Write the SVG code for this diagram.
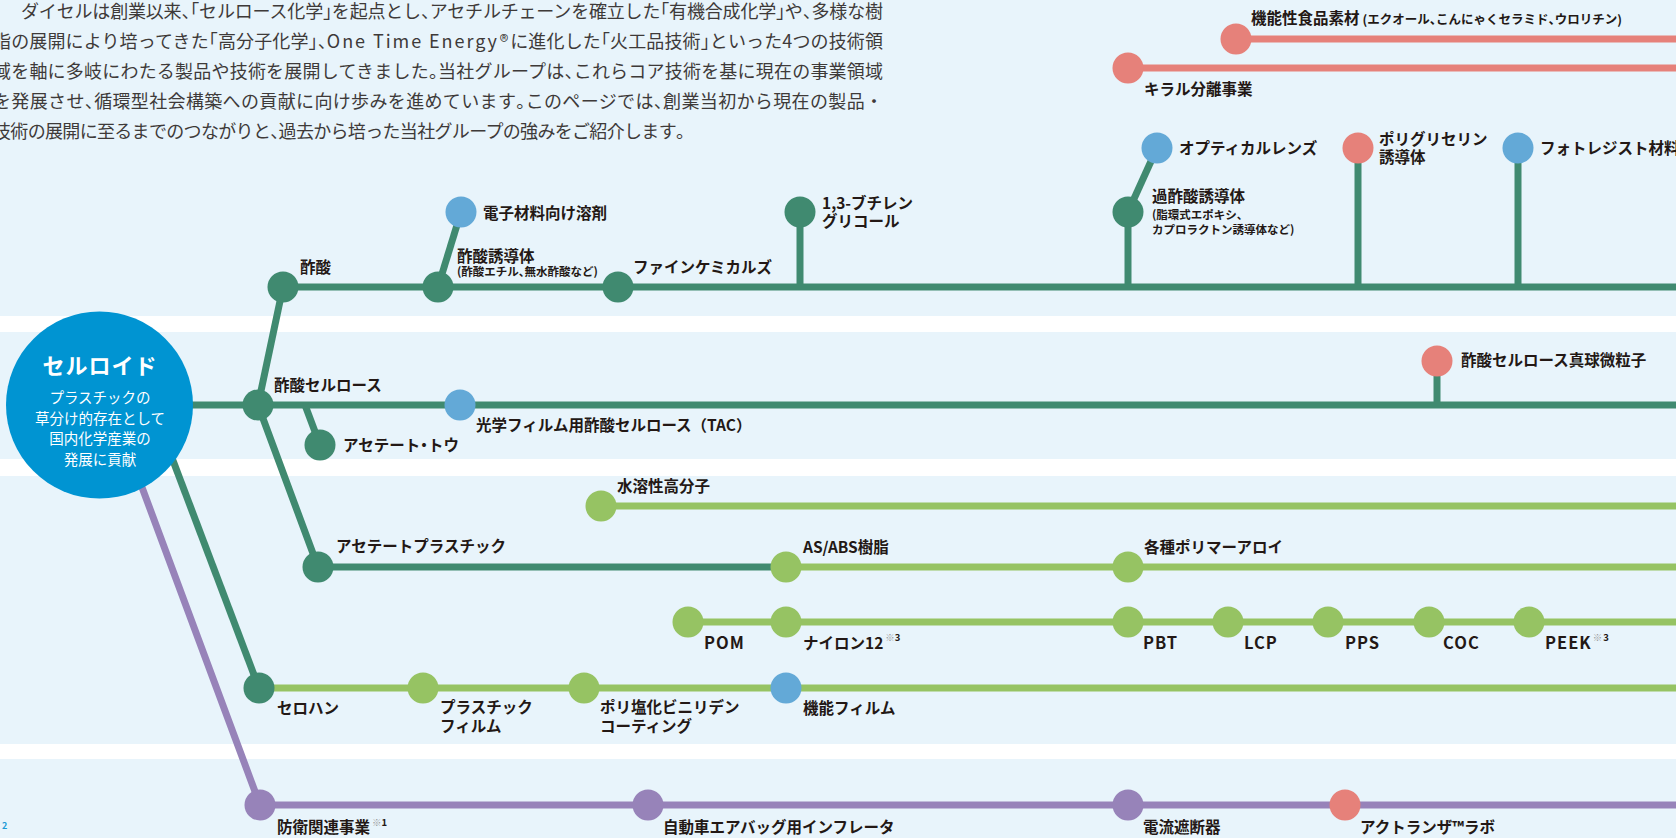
<svg xmlns="http://www.w3.org/2000/svg" width="1676" height="838" viewBox="0 0 1676 838">
<style>
.bg{fill:#E8F4FB}
.c{fill:none;stroke-width:7;stroke-linecap:butt}
.cg{stroke:#408A70}.cl{stroke:#96C363}.cp{stroke:#E6817A}.cv{stroke:#9783B9}
.ng{fill:#408A70}.nl{fill:#96C363}.nb{fill:#63A9D7}.np{fill:#E6817A}.nv{fill:#9783B9}
text{font-family:"Noto Sans CJK JP","Noto Sans",sans-serif}
.t{font-weight:700;font-size:15.5px;fill:#231815}
.s{font-weight:700;font-size:11.5px;fill:#231815}
.e{font-weight:700;font-size:16.5px;fill:#231815;letter-spacing:1px}
.sup{font-weight:700;font-size:9.5px;fill:#231815}
.k{fill:#9a9a9a}
.p{font-weight:400;font-size:18px;fill:#3E3A39}
.h{font-feature-settings:"halt"}
.w{fill:#fff}
</style>
<rect x="0" y="0" width="1676" height="838" fill="#fff"/>
<g id="bands">
<rect class="bg" x="0" y="0" width="1676" height="316"/>
<rect class="bg" x="0" y="332" width="1676" height="127"/>
<rect class="bg" x="0" y="476" width="1676" height="268"/>
<rect class="bg" x="0" y="759" width="1676" height="79"/>
</g>
<g id="intro">
<text class="p" x="21" y="18" textLength="862" lengthAdjust="spacing">ダイセルは創業以来<tspan class="h">、「</tspan>セルロース化学<tspan class="h">」</tspan>を起点とし<tspan class="h">、</tspan>アセチルチェーンを確立した<tspan class="h">「</tspan>有機合成化学<tspan class="h">」</tspan>や<tspan class="h">、</tspan>多様な樹</text>
<text class="p" x="-7" y="48" textLength="890" lengthAdjust="spacing">脂の展開により培ってきた<tspan class="h">「</tspan>高分子化学<tspan class="h">」、</tspan><tspan letter-spacing="1.8">One Time Energy®</tspan>に進化した<tspan class="h">「</tspan>火工品技術<tspan class="h">」</tspan>といった4つの技術領</text>
<text class="p" x="-7" y="78" textLength="890" lengthAdjust="spacing">域を軸に多岐にわたる製品や技術を展開してきました<tspan class="h">。</tspan>当社グループは<tspan class="h">、</tspan>これらコア技術を基に現在の事業領域</text>
<text class="p" x="-7" y="108" textLength="890" lengthAdjust="spacing">を発展させ<tspan class="h">、</tspan>循環型社会構築への貢献に向け歩みを進めています<tspan class="h">。</tspan>このページでは<tspan class="h">、</tspan>創業当初から現在の製品・</text>
<text class="p" x="-7" y="138" textLength="692" lengthAdjust="spacing">技術の展開に至るまでのつながりと<tspan class="h">、</tspan>過去から培った当社グループの強みをご紹介します<tspan class="h">。</tspan></text>
</g>
<g id="connectors">
<path class="c cg" d="M283 287H1676"/>
<path class="c cg" d="M283 287L258 405"/>
<path class="c cg" d="M150 405H1676"/>
<path class="c cg" d="M258 405L318 567H786"/>
<path class="c cg" d="M305 405L320 445"/>
<path class="c cg" d="M438 287L461 212"/>
<path class="c cg" d="M800 212V287"/>
<path class="c cg" d="M1128 212V287"/>
<path class="c cg" d="M1128 212L1157 148"/>
<path class="c cg" d="M1358 148V287"/>
<path class="c cg" d="M1518 148V287"/>
<path class="c cg" d="M1437 361V405"/>
<path class="c cg" d="M152 405L259 688"/>
<path class="c cv" d="M117 420L260 805H1676"/>
<path class="c cl" d="M601 506H1676"/>
<path class="c cl" d="M786 567H1676"/>
<path class="c cl" d="M688 622H1676"/>
<path class="c cl" d="M259 688H1676"/>
<path class="c cp" d="M1236 39H1676"/>
<path class="c cp" d="M1128 68H1676"/>
</g>
<g id="celluloid">
<circle cx="99.5" cy="405" r="93.5" fill="#0094D2"/>
<text class="w" x="100" y="374" text-anchor="middle" font-weight="700" font-size="22" letter-spacing="1">セルロイド</text>
<text class="w" x="100" y="403" text-anchor="middle" font-size="14.5">プラスチックの</text>
<text class="w" x="100" y="423.5" text-anchor="middle" font-size="14.5">草分け的存在として</text>
<text class="w" x="100" y="444" text-anchor="middle" font-size="14.5">国内化学産業の</text>
<text class="w" x="100" y="464.5" text-anchor="middle" font-size="14.5">発展に貢献</text>
</g>
<g id="n-sakusan"><circle class="ng" cx="283" cy="287" r="15.5"/><text class="t" x="300" y="273">酢酸</text></g>
<g id="n-sakusan-yudotai"><circle class="ng" cx="438" cy="287" r="15.5"/><text class="t" x="457" y="261.5">酢酸誘導体</text><text class="s" x="457" y="276">(酢酸エチル<tspan class="h">、</tspan>無水酢酸など)</text></g>
<g id="n-denshi"><circle class="nb" cx="461" cy="212" r="15.5"/><text class="t" x="483" y="219">電子材料向け溶剤</text></g>
<g id="n-fine"><circle class="ng" cx="618" cy="287" r="15.5"/><text class="t" x="633" y="273">ファインケミカルズ</text></g>
<g id="n-butylene"><circle class="ng" cx="800" cy="212" r="15.5"/><text class="t" x="822" y="209">1,3-ブチレン</text><text class="t" x="822" y="226.5">グリコール</text></g>
<g id="n-kasakusan"><circle class="ng" cx="1128" cy="212" r="15.5"/><text class="t" x="1152" y="201.5">過酢酸誘導体</text><text class="s" x="1152" y="219">(脂環式エポキシ<tspan class="h">、</tspan></text><text class="s" x="1152" y="234">カプロラクトン誘導体など)</text></g>
<g id="n-optical"><circle class="nb" cx="1157" cy="148" r="15.5"/><text class="t" x="1179" y="153.5">オプティカルレンズ</text></g>
<g id="n-polyglycerin"><circle class="np" cx="1358" cy="148" r="15.5"/><text class="t" x="1379" y="145">ポリグリセリン</text><text class="t" x="1379" y="162.5">誘導体</text></g>
<g id="n-photoresist"><circle class="nb" cx="1518" cy="148" r="15.5"/><text class="t" x="1540" y="153.5">フォトレジスト材料</text></g>
<g id="n-food"><circle class="np" cx="1236" cy="39" r="15.5"/><text class="t" x="1251" y="24">機能性食品素材<tspan font-size="12.5" dx="3">(エクオール<tspan class="h">、</tspan>こんにゃくセラミド<tspan class="h">、</tspan>ウロリチン)</tspan></text></g>
<g id="n-chiral"><circle class="np" cx="1128" cy="68" r="15.5"/><text class="t" x="1144" y="95">キラル分離事業</text></g>
<g id="n-cellulose-acetate"><circle class="ng" cx="258" cy="405" r="15.5"/><text class="t" x="274" y="390.5">酢酸セルロース</text></g>
<g id="n-tac"><circle class="nb" cx="460" cy="405" r="15.5"/><text class="t" x="476" y="431">光学フィルム用酢酸セルロース（TAC）</text></g>
<g id="n-tow"><circle class="ng" cx="320" cy="445" r="15.5"/><text class="t" x="343" y="450.5">アセテート<tspan class="h">・</tspan>トウ</text></g>
<g id="n-microsphere"><circle class="np" cx="1437" cy="361" r="15.5"/><text class="t" x="1461" y="366">酢酸セルロース真球微粒子</text></g>
<g id="n-water"><circle class="nl" cx="601" cy="506" r="15.5"/><text class="t" x="617" y="491.5">水溶性高分子</text></g>
<g id="n-acetate-plastic"><circle class="ng" cx="318" cy="567" r="15.5"/><text class="t" x="336" y="552">アセテートプラスチック</text></g>
<g id="n-asabs"><circle class="nl" cx="786" cy="567" r="15.5"/><text class="t" x="803" y="553">AS/ABS樹脂</text></g>
<g id="n-alloy"><circle class="nl" cx="1128" cy="567" r="15.5"/><text class="t" x="1144" y="552.5">各種ポリマーアロイ</text></g>
<g id="n-pom"><circle class="nl" cx="688" cy="622" r="15.5"/><text class="e" x="704" y="649">POM</text></g>
<g id="n-nylon"><circle class="nl" cx="786" cy="622" r="15.5"/><text class="t" x="803" y="649">ナイロン12<tspan class="sup" dx="2" dy="-8"><tspan class="k">※</tspan>3</tspan></text></g>
<g id="n-pbt"><circle class="nl" cx="1128" cy="622" r="15.5"/><text class="e" x="1143" y="649">PBT</text></g>
<g id="n-lcp"><circle class="nl" cx="1228" cy="622" r="15.5"/><text class="e" x="1244" y="649">LCP</text></g>
<g id="n-pps"><circle class="nl" cx="1328" cy="622" r="15.5"/><text class="e" x="1345" y="649">PPS</text></g>
<g id="n-coc"><circle class="nl" cx="1429" cy="622" r="15.5"/><text class="e" x="1443" y="649">COC</text></g>
<g id="n-peek"><circle class="nl" cx="1529" cy="622" r="15.5"/><text class="e" x="1545" y="649">PEEK<tspan class="sup" dx="1" dy="-8"><tspan class="k">※</tspan>3</tspan></text></g>
<g id="n-cellophane"><circle class="ng" cx="259" cy="688" r="15.5"/><text class="t" x="277" y="713.5">セロハン</text></g>
<g id="n-plastic-film"><circle class="nl" cx="423" cy="688" r="15.5"/><text class="t" x="440" y="713">プラスチック</text><text class="t" x="440" y="731.5">フィルム</text></g>
<g id="n-pvdc"><circle class="nl" cx="584" cy="688" r="15.5"/><text class="t" x="600" y="713">ポリ塩化ビニリデン</text><text class="t" x="600" y="731.5">コーティング</text></g>
<g id="n-functional-film"><circle class="nb" cx="786" cy="688" r="15.5"/><text class="t" x="803" y="713.5">機能フィルム</text></g>
<g id="n-defense"><circle class="nv" cx="260" cy="805" r="15.5"/><text class="t" x="277" y="832.5">防衛関連事業<tspan class="sup" dx="2" dy="-7"><tspan class="k">※</tspan>1</tspan></text></g>
<g id="n-inflator"><circle class="nv" cx="648" cy="805" r="15.5"/><text class="t" x="663" y="832.5">自動車エアバッグ用インフレータ</text></g>
<g id="n-breaker"><circle class="nv" cx="1128" cy="805" r="15.5"/><text class="t" x="1143" y="832.5">電流遮断器</text></g>
<g id="n-actranza"><circle class="np" cx="1345" cy="805" r="15.5"/><text class="t" x="1360" y="832.5">アクトランザ™ラボ</text></g>
<text x="2" y="829" font-family="Liberation Sans, sans-serif" font-weight="700" font-size="9" fill="#1A9AD6">2</text>
</svg>
